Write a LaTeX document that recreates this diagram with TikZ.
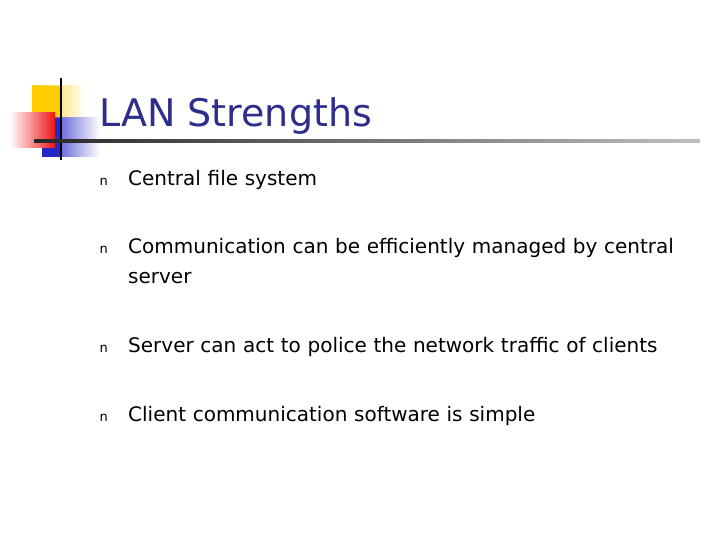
\documentclass[tikz,border=0pt]{standalone}
\usepackage{fontspec}
\setmainfont{DejaVu Sans}
\usetikzlibrary{fadings}
\definecolor{ttl}{RGB}{45,45,140}
\definecolor{yel}{RGB}{255,204,0}
\definecolor{blu}{RGB}{40,40,200}
\definecolor{rd}{RGB}{240,20,20}
\tikzset{bul/.style={anchor=base west,font=\fontsize{13}{15}\selectfont},
 txt/.style={anchor=base west,font=\fontsize{20}{30}\selectfont,align=left,text width=600pt,inner sep=0pt}}
\begin{document}
\begin{tikzpicture}[x=1pt,y=-1pt]
\useasboundingbox[fill=white] (0,0) rectangle (720,540);
\shade[left color=yel,right color=white] (32,86) rectangle (85,120);
\fill[yel] (32,86) rectangle (60,120);
\shade[left color=blu,right color=white] (42,118) rectangle (100,157);
\fill[blu] (42,118) rectangle (62,157);
\shade[left color=white,right color=rd] (10,113) rectangle (55,148);
\draw[line width=2pt] (61,78) -- (61,160);
\shade[left color=black!85,right color=black!25] (34,140) rectangle (700,142.5);
\node[anchor=base west,inner sep=0pt,text=ttl,font=\fontsize{38}{42}\selectfont] (t) at (99,127) {LAN Strengths};
\node[bul] (b1) at (96,186) {n};
\node[txt] (t1) at (128,186) {Central file system};
\node[bul] (b2) at (96,253) {n};
\node[txt] (t2) at (128,253) {Communication can be efficiently managed by central\\server};
\node[bul] (b3) at (96,352) {n};
\node[txt] (t3) at (128,352) {Server can act to police the network traffic of clients};
\node[bul] (b4) at (96,421) {n};
\node[txt] (t4) at (128,421) {Client communication software is simple};
\end{tikzpicture}
\end{document}
